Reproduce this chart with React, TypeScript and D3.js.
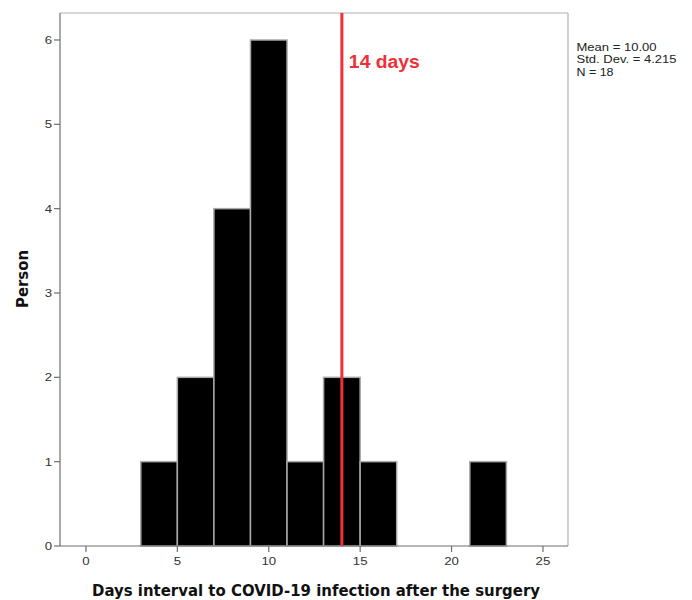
import React from "react";
import * as d3 from "d3";

const binStarts = [3, 5, 7, 9, 11, 13, 15, 17, 19, 21];
const binWidth = 2;
const counts = [1, 2, 4, 6, 1, 2, 1, 0, 0, 1];
const xTicks = [0, 5, 10, 15, 20, 25];
const yTicks = [0, 1, 2, 3, 4, 5, 6];
const markerDay = 14;
const markerLabel = "14 days";
const statsLines = ["Mean = 10.00", "Std. Dev. = 4.215", "N = 18"];
const statsWidths = [80, 100, 37];
const xTitle = "Days interval to COVID-19 infection after the surgery";
const yTitle = "Person";

const W = 692;
const H = 600;
const left = 60;
const right = 568;
const top = 13;
const bottom = 546;

export default function App() {
  const x = d3.scaleLinear().domain([-1.42, 26.37]).range([left, right]);
  const y = d3.scaleLinear().domain([0, 6.32]).range([bottom, top]);
  const font = "Liberation Sans, Arial, sans-serif";
  const bold = "DejaVu Sans, Verdana, sans-serif";
  return (
    <svg width={W} height={H} style={{ position: "absolute", left: 0, top: 0, background: "#fff" }}>
      <rect x={0} y={0} width={W} height={H} fill="#fff" />
      {/* frame */}
      <line x1={left} x2={right} y1={top} y2={top} stroke="#b0b0b0" strokeWidth={1.2} />
      <line x1={right} x2={right} y1={top} y2={bottom} stroke="#b0b0b0" strokeWidth={1.2} />
      {/* bars */}
      {binStarts.map((s, i) =>
        counts[i] > 0 ? (
          <rect
            key={i}
            x={x(s)}
            y={y(counts[i])}
            width={x(s + binWidth) - x(s)}
            height={y(0) - y(counts[i])}
            fill="#000"
            stroke="#a8a8a8"
            strokeWidth={1.5}
          />
        ) : null
      )}
      {/* axes */}
      <line x1={left} x2={right} y1={bottom} y2={bottom} stroke="#6e6e6e" strokeWidth={1.2} />
      <line x1={left} x2={left} y1={top} y2={bottom} stroke="#6e6e6e" strokeWidth={1.2} />
      {xTicks.map((t) => (
        <g key={t}>
          <line x1={x(t)} x2={x(t)} y1={bottom} y2={bottom + 6} stroke="#6e6e6e" strokeWidth={1.2} />
          <text
            transform={`translate(${x(t)},${bottom + 19}) scale(1.15,1)`}
            textAnchor="middle"
            fontFamily={font}
            fontSize={11.5}
            fill="#333"
          >
            {t}
          </text>
        </g>
      ))}
      {yTicks.map((t) => (
        <g key={t}>
          <line x1={left - 6} x2={left} y1={y(t)} y2={y(t)} stroke="#6e6e6e" strokeWidth={1.2} />
          <text
            transform={`translate(${left - 8},${y(t) + 4}) scale(1.15,1)`}
            textAnchor="end"
            fontFamily={font}
            fontSize={11.5}
            fill="#333"
          >
            {t}
          </text>
        </g>
      ))}
      {/* marker */}
      <line x1={x(markerDay)} x2={x(markerDay)} y1={top} y2={bottom} stroke="#ee3038" strokeWidth={3} />
      <text
        x={x(markerDay) + 7}
        y={68}
        fontFamily={font}
        fontSize={18}
        fontWeight="bold"
        fill="#ee3038"
        textLength={71}
        lengthAdjust="spacingAndGlyphs"
      >
        {markerLabel}
      </text>
      {/* stats */}
      {statsLines.map((l, i) => (
        <text
          key={i}
          x={576.5}
          y={50.5 + i * 12.5}
          fontFamily={font}
          fontSize={11.5}
          fill="#222"
          textLength={statsWidths[i]}
          lengthAdjust="spacingAndGlyphs"
        >
          {l}
        </text>
      ))}
      {/* titles */}
      <text
        x={92}
        y={596}
        fontFamily={bold}
        fontSize={15.5}
        fontWeight="bold"
        fill="#111"
        textLength={448}
        lengthAdjust="spacingAndGlyphs"
      >
        {xTitle}
      </text>
      <text
        transform={`translate(28,308) rotate(-90)`}
        fontFamily={bold}
        fontSize={15.5}
        fontWeight="bold"
        fill="#111"
        textLength={58}
        lengthAdjust="spacingAndGlyphs"
      >
        {yTitle}
      </text>
    </svg>
  );
}
